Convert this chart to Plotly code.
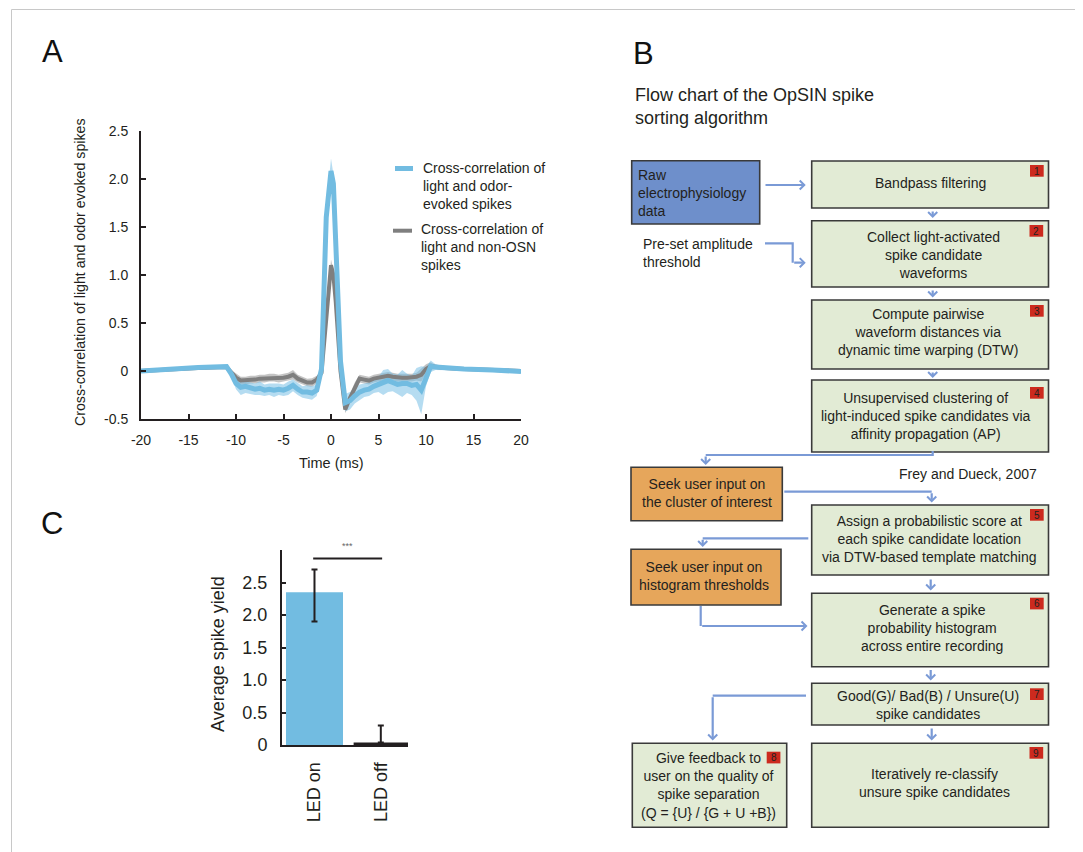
import plotly.graph_objects as go

W, H = 1083, 852
OFF = 8  # page body margin of the rendered HTML


def PX(x):
    return (x - OFF) / W


def PY(y):
    return 1 - (y - OFF) / H


FONT = "Liberation Sans, Arial, Helvetica, sans-serif"
INK = "#231f20"
BLUE = "#72bce1"
BLUE_BAND = "rgba(120,192,230,0.55)"
GRAY = "#7f7f7f"
GRAY_BAND = "rgba(125,125,125,0.45)"
ARROW = "#7a9ad6"
GREEN = "#e2ebd5"
ORANGE = "#e6a65b"
RAWBLUE = "#6e8fcb"
BADGE = "#cc2a1e"
EDGE = "#3a3a3a"

# ---------------- Panel A data ----------------
t_ms = [-20, -17, -14, -11, -10.5, -10, -9.5, -9, -8.5, -8, -7.5, -7, -6.5, -6,
        -5.5, -5, -4.5, -4, -3.5, -3, -2.5, -2, -1.5, -1, -0.5, 0, 0.25, 0.5, 1,
        1.5, 2, 2.5, 3, 3.5, 4, 4.5, 5, 5.5, 6, 6.5, 7, 7.5, 8, 8.5, 9, 9.5, 10,
        10.5, 11, 12, 14, 17, 20]
blue_mean = [0.0, 0.02, 0.035, 0.045, -0.03, -0.13, -0.17, -0.16, -0.18, -0.19,
             -0.18, -0.2, -0.19, -0.2, -0.19, -0.2, -0.18, -0.15, -0.19, -0.22,
             -0.22, -0.23, -0.2, 0.02, 1.6, 2.08, 1.95, 1.35, 0.1, -0.33, -0.31,
             -0.26, -0.22, -0.2, -0.19, -0.16, -0.14, -0.12, -0.1, -0.12, -0.14,
             -0.13, -0.13, -0.15, -0.14, -0.2, -0.06, 0.05, 0.04, 0.03, 0.02,
             0.01, -0.005]
blue_sem = [0.015, 0.015, 0.015, 0.02, 0.03, 0.06, 0.08, 0.07, 0.06, 0.06, 0.07,
            0.06, 0.06, 0.07, 0.06, 0.06, 0.07, 0.06, 0.06, 0.06, 0.07, 0.07,
            0.06, 0.07, 0.1, 0.13, 0.1, 0.08, 0.06, 0.09, 0.09, 0.08, 0.08, 0.07,
            0.07, 0.07, 0.08, 0.13, 0.12, 0.09, 0.1, 0.14, 0.1, 0.1, 0.17, 0.25,
            0.1, 0.06, 0.03, 0.02, 0.015, 0.015, 0.015]
gray_mean = [0.0, 0.02, 0.03, 0.04, -0.01, -0.07, -0.1, -0.1, -0.09, -0.09, -0.08,
             -0.08, -0.07, -0.07, -0.08, -0.07, -0.06, -0.04, -0.08, -0.1, -0.12,
             -0.12, -0.09, -0.02, 0.5, 1.1, 1.0, 0.72, 0.0, -0.4, -0.28, -0.17,
             -0.08, -0.09, -0.1, -0.08, -0.07, -0.06, -0.05, -0.06, -0.07, -0.07,
             -0.07, -0.07, -0.06, -0.04, 0.02, 0.05, 0.04, 0.03, 0.02, 0.01, 0.0]
gray_sem = [0.012, 0.012, 0.012, 0.012, 0.02, 0.04, 0.04, 0.04, 0.04, 0.04, 0.04,
            0.04, 0.04, 0.04, 0.04, 0.04, 0.04, 0.05, 0.04, 0.04, 0.04, 0.045,
            0.04, 0.03, 0.04, 0.06, 0.05, 0.04, 0.03, 0.04, 0.05, 0.05, 0.04,
            0.04, 0.04, 0.04, 0.04, 0.04, 0.04, 0.04, 0.04, 0.04, 0.04, 0.04,
            0.04, 0.07, 0.05, 0.04, 0.02, 0.012, 0.012, 0.012, 0.012]
a_yticks = [-0.5, 0, 0.5, 1.0, 1.5, 2.0, 2.5]
a_yticktext = ["-0.5", "0", "0.5", "1.0", "1.5", "2.0", "2.5"]
a_xticks = [-20, -15, -10, -5, 0, 5, 10, 15, 20]
a_xticktext = ["-20", "-15", "-10", "-5", "0", "5", "10", "15", "20"]
legend_blue = "Cross-correlation of<br>light and odor-<br>evoked spikes"
legend_gray = "Cross-correlation of<br>light and non-OSN<br>spikes"

# ---------------- Panel C data ----------------
conditions = ["LED on", "LED off"]
spike_yield = [2.35, 0.04]
err_plus = [0.35, 0.26]
err_minus = [0.45, 0.0]
c_yticks = [0, 0.5, 1.0, 1.5, 2.0, 2.5, 3.0]
c_yticktext = ["0", "0.5", "1.0", "1.5", "2.0", "2.5", ""]
sig_level = 2.87

# ---------------- Panel B text ----------------
flow_title = "Flow chart of the OpSIN spike<br>sorting algorithm"
step_texts = {
    "raw": "Raw<br>electrophysiology<br>data",
    "preset": "Pre-set amplitude<br>threshold",
    "s1": "Bandpass filtering",
    "s2": "Collect light-activated<br>spike candidate<br>waveforms",
    "s3": "Compute pairwise<br>waveform distances via<br>dynamic time warping (DTW)",
    "s4": "Unsupervised clustering of<br>light-induced spike candidates via<br>affinity propagation (AP)",
    "o1": "Seek user input on<br>the cluster of interest",
    "ref": "Frey and Dueck, 2007",
    "s5": "Assign a probabilistic score at<br>each spike candidate location<br>via DTW-based template matching",
    "o2": "Seek user input on<br>histogram thresholds",
    "s6": "Generate a spike<br>probability histogram<br>across entire recording",
    "s7": "Good(G)/ Bad(B) / Unsure(U)<br>spike candidates",
    "s8": "Give feedback to<br>user on the quality of<br>spike separation<br>(Q = {U} / {G + U +B})",
    "s9": "Iteratively re-classify<br>unsure spike candidates",
}

fig = go.Figure()


def add_band(mean, sem, color):
    up = [m + s for m, s in zip(mean, sem)]
    lo = [m - s for m, s in zip(mean, sem)]
    fig.add_trace(go.Scatter(x=t_ms, y=up, mode="lines", line=dict(width=0, color=color),
                             hoverinfo="skip", showlegend=False, xaxis="x", yaxis="y"))
    fig.add_trace(go.Scatter(x=t_ms, y=lo, mode="lines", line=dict(width=0, color=color),
                             fill="tonexty", fillcolor=color, hoverinfo="skip",
                             showlegend=False, xaxis="x", yaxis="y"))


add_band(gray_mean, gray_sem, GRAY_BAND)
add_band(blue_mean, blue_sem, BLUE_BAND)
fig.add_trace(go.Scatter(x=t_ms, y=gray_mean, mode="lines", line=dict(color=GRAY, width=4),
                         showlegend=False, xaxis="x", yaxis="y"))
fig.add_trace(go.Scatter(x=t_ms, y=blue_mean, mode="lines", line=dict(color=BLUE, width=5),
                         showlegend=False, xaxis="x", yaxis="y"))

fig.add_trace(go.Bar(
    x=conditions, y=spike_yield, width=[0.86, 0.82],
    marker=dict(color=[BLUE, INK], line=dict(width=0)),
    error_y=dict(type="data", symmetric=False, array=err_plus, arrayminus=err_minus,
                 color=INK, thickness=2, width=3),
    showlegend=False, xaxis="x2", yaxis="y2"))

shapes = []
annotations = []


def label(text, x, y, size=14, xanchor="center", yanchor="middle", align="center",
          color=INK, angle=0):
    annotations.append(dict(text=text, x=PX(x), y=PY(y), xref="paper", yref="paper",
                            xanchor=xanchor, yanchor=yanchor, align=align, showarrow=False,
                            textangle=angle, font=dict(size=size, color=color)))


# outer frame
shapes.append(dict(type="rect", xref="paper", yref="paper", x0=PX(11.5), x1=PX(1079),
                   y0=PY(870), y1=PY(9.5), line=dict(color="#c8c8c8", width=1)))

# Panel letters
for letter, (lx, ly) in {"A": (52, 51), "B": (643, 53), "C": (52, 523)}.items():
    label(letter, lx, ly, size=31, color="#111")

# Panel A titles and legend
label("Cross-correlation of light and odor evoked spikes", 80, 272, size=14.2, angle=-90)
label("Time (ms)", 331, 463, size=14.5)
shapes.append(dict(type="line", xref="paper", yref="paper", x0=PX(395), x1=PX(413),
                   y0=PY(168.5), y1=PY(168.5), line=dict(color=BLUE, width=5)))
shapes.append(dict(type="line", xref="paper", yref="paper", x0=PX(393), x1=PX(412),
                   y0=PY(230.7), y1=PY(230.7), line=dict(color=GRAY, width=4)))
label(legend_blue, 421, 185.5, xanchor="left", align="left")
label(legend_gray, 419, 247.2, xanchor="left", align="left")

# Panel C title and significance
label("Average spike yield", 218, 654, size=18, angle=-90)
shapes.append(dict(type="line", xref="x2", yref="y2", x0=-0.02, x1=1.02, y0=sig_level, y1=sig_level,
                   line=dict(color=INK, width=2)))
label("***", 347, 546, size=9, color="#666")

# Panel B title
label(flow_title, 633, 107, size=18, xanchor="left", align="left")

GX0, GX1 = 811.7, 1048.5
boxes = [
    (631.7, 160.7, 759.7, 224, RAWBLUE),
    (GX0, 161, GX1, 208, GREEN),
    (GX0, 220.7, GX1, 287, GREEN),
    (GX0, 300, GX1, 369, GREEN),
    (GX0, 380, GX1, 452, GREEN),
    (631, 467.3, 782.3, 520.7, ORANGE),
    (GX0, 505, GX1, 575, GREEN),
    (631, 549.3, 781, 605, ORANGE),
    (GX0, 593.3, GX1, 666.7, GREEN),
    (GX0, 683.3, GX1, 725, GREEN),
    (632.3, 743.3, 786.7, 827.3, GREEN),
    (GX0, 743.3, GX1, 827.3, GREEN),
]
for x0, y0, x1, y1, col in boxes:
    shapes.append(dict(type="rect", xref="paper", yref="paper", x0=PX(x0), x1=PX(x1),
                       y0=PY(y1), y1=PY(y0), fillcolor=col, line=dict(color=EDGE, width=1.6)))

badges = [("1", 1030, 165), ("2", 1029.5, 225), ("3", 1030, 305), ("4", 1030, 387),
          ("5", 1030, 509), ("6", 1030, 597.7), ("7", 1030, 688.3), ("8", 766.7, 751.7),
          ("9", 1029.5, 747)]
for num, bx, by in badges:
    shapes.append(dict(type="rect", xref="paper", yref="paper", x0=PX(bx), x1=PX(bx + 13.7),
                       y0=PY(by + 11.7), y1=PY(by), fillcolor=BADGE, line=dict(width=0)))
    label(num, bx + 6.85, by + 6.1, size=10, color="#222")

text_pos = {
    "s1": (930, 183), "s2": (933, 255), "s3": (928, 332), "s4": (926, 416),
    "o1": (706.7, 493.2), "s5": (929, 538.5), "o2": (704.3, 575.5), "s6": (931.7, 628.3),
    "s7": (927.7, 704.5), "s8": (708, 785), "s9": (934.3, 783.3),
}
for key, (tx, ty) in text_pos.items():
    label(step_texts[key], tx, ty)
label(step_texts["raw"], 636, 193, xanchor="left", align="left")
label(step_texts["preset"], 640.7, 253, xanchor="left", align="left")
label(step_texts["ref"], 1039, 474, xanchor="right", align="right")

arrows = [
    [(764, 185), (805.7, 185)],
    [(765, 243.3), (792.7, 243.3), (792.7, 262.7), (805.7, 262.7)],
    [(932.7, 210), (932.7, 218)],
    [(932.7, 289), (932.7, 297.5)],
    [(932.7, 371), (932.7, 378)],
    [(932.7, 451), (932.7, 455), (705.7, 455), (705.7, 465)],
    [(784.3, 491.7), (931.7, 491.7), (931.7, 502.5)],
    [(808.3, 538.3), (702.7, 538.3), (702.7, 547)],
    [(930.7, 578), (930.7, 590.5)],
    [(700.7, 606), (700.7, 626), (807.5, 626)],
    [(930.7, 668.5), (930.7, 680.5)],
    [(806, 695.7), (712.7, 695.7), (712.7, 740.5)],
    [(931.7, 727), (931.7, 740.5)],
]
for pts in arrows:
    if len(pts) > 2:
        path = "M " + " L ".join(f"{PX(x)},{PY(y)}" for x, y in pts[:-1])
        shapes.append(dict(type="path", xref="paper", yref="paper", path=path,
                           line=dict(color=ARROW, width=2.2)))
    (tx, ty), (hx, hy) = pts[-2], pts[-1]
    annotations.append(dict(text="", x=PX(hx), y=PY(hy), xref="paper", yref="paper",
                            ax=tx - hx, ay=ty - hy, axref="pixel", ayref="pixel",
                            showarrow=True, arrowhead=4, arrowsize=0.8, arrowwidth=2.2,
                            arrowcolor=ARROW, standoff=0))

axis_common = dict(showgrid=False, zeroline=False, showline=True, linecolor=INK, linewidth=2,
                   tickcolor=INK, tickwidth=1.5, ticks="inside")

fig.update_layout(
    width=W, height=H, autosize=False,
    margin=dict(l=0, r=0, t=0, b=0, pad=0, autoexpand=False),
    paper_bgcolor="white", plot_bgcolor="white",
    font=dict(family=FONT, color=INK),
    showlegend=False,
    xaxis=dict(domain=[PX(141), PX(521)], range=[-20, 20], anchor="y", ticklen=5,
               tickvals=a_xticks, ticktext=a_xticktext, tickfont=dict(size=14),
               ticklabelstandoff=7, **axis_common),
    yaxis=dict(domain=[PY(419), PY(130.7)], range=[-0.5, 2.5], anchor="x", ticklen=5,
               tickvals=a_yticks, ticktext=a_yticktext, tickfont=dict(size=14),
               ticklabelstandoff=8, **axis_common),
    xaxis2=dict(domain=[PX(282), PX(408)], range=[-0.49, 1.41], anchor="y2", showgrid=False,
                zeroline=False, showline=True, linecolor=INK, linewidth=2, ticks="",
                tickangle=-90, tickfont=dict(size=18), ticklabelstandoff=8),
    yaxis2=dict(domain=[PY(745), PY(550)], range=[0, 3], anchor="x2", ticklen=4,
                tickvals=c_yticks, ticktext=c_yticktext, tickfont=dict(size=18),
                ticklabelstandoff=9, **axis_common),
    shapes=shapes,
    annotations=annotations,
)

fig.write_html("out.html")
